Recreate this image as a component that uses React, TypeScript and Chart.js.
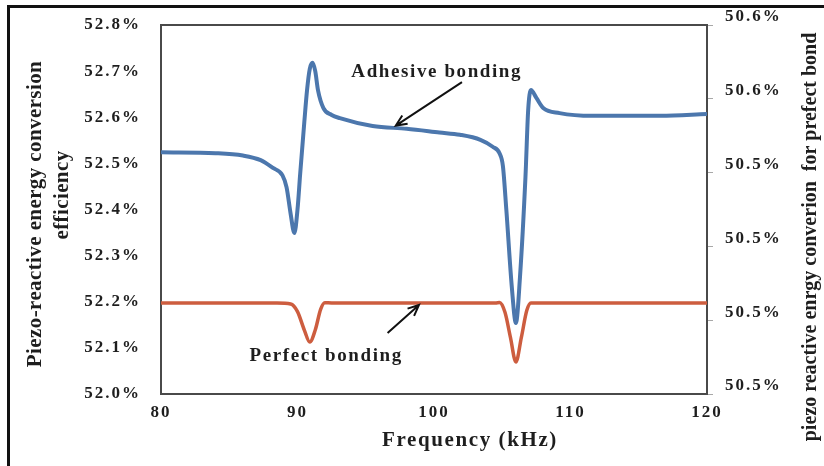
import { useEffect, useRef } from 'react';
import { Chart, registerables } from 'chart.js';

Chart.register(...registerables);

// Adhesive bonding: conversion efficiency (%) against frequency (kHz)
const adhesiveFreq = [
  80, 84, 86, 87.3, 88.2, 88.9, 89.2, 89.5, 89.77, 90.0, 90.2, 90.5, 90.7, 90.9,
  91.1, 91.3, 91.5, 91.9, 92.5, 93.1, 95.5, 98.0, 100.4, 101.9, 103.4, 104.3,
  104.8, 105.05, 105.3, 105.7, 106.0, 106.3, 106.7, 106.9, 107.1, 107.5, 108.0,
  109.2, 111.6, 116.6, 120,
];
const adhesiveEff = [
  52.524, 52.522, 52.517, 52.507, 52.49, 52.474, 52.448, 52.39, 52.349, 52.4,
  52.479, 52.59, 52.659, 52.705, 52.718, 52.7, 52.659, 52.62, 52.605, 52.598,
  52.581, 52.575, 52.567, 52.562, 52.551, 52.536, 52.522, 52.494, 52.399, 52.232,
  52.154, 52.254, 52.47, 52.616, 52.659, 52.642, 52.62, 52.609, 52.603, 52.603,
  52.607,
];

// Perfect bonding: plotted against the right-hand axis
const perfectFreq = [
  80, 88.5, 89.5, 90.0, 90.5, 90.9, 91.3, 91.7, 92.0, 92.5, 104.5, 104.8, 105.2,
  105.6, 106.0, 106.4, 106.8, 107.1, 107.5, 120,
];
const perfectEff = [
  50.487, 50.487, 50.4866, 50.4835, 50.476, 50.4711, 50.476, 50.4845, 50.4871,
  50.487, 50.487, 50.4872, 50.4832, 50.473, 50.463, 50.473, 50.484, 50.487,
  50.487, 50.487,
];

const leftTickLabels = ['52.0%', '52.1%', '52.2%', '52.3%', '52.4%', '52.5%', '52.6%', '52.7%', '52.8%'];
const rightTickLabels = ['50.5%', '50.5%', '50.5%', '50.5%', '50.6%', '50.6%'];

const SERIF = '"Liberation Serif", "Times New Roman", serif';
const INK = '#1e1e1e';

const pointsOf = (xs: number[], ys: number[]) => xs.map((x, i) => ({ x, y: ys[i] }));

function drawArrow(ctx: CanvasRenderingContext2D, x1: number, y1: number, x2: number, y2: number) {
  const ang = Math.atan2(y2 - y1, x2 - x1);
  const len = 12;
  const spread = 0.42;
  ctx.beginPath();
  ctx.moveTo(x1, y1);
  ctx.lineTo(x2, y2);
  ctx.moveTo(x2 - len * Math.cos(ang - spread), y2 - len * Math.sin(ang - spread));
  ctx.lineTo(x2, y2);
  ctx.lineTo(x2 - len * Math.cos(ang + spread), y2 - len * Math.sin(ang + spread));
  ctx.stroke();
}

const decorations = {
  id: 'decorations',
  beforeDraw(chart: any) {
    (chart.ctx as any).letterSpacing = '2px';
  },
  beforeDatasetsDraw(chart: any) {
    const { ctx, chartArea: a } = chart;
    ctx.save();
    ctx.strokeStyle = '#4a4a4a';
    ctx.lineWidth = 2;
    ctx.strokeRect(a.left, a.top, a.right - a.left, a.bottom - a.top);
    ctx.restore();
  },
  afterDraw(chart: any) {
    const { ctx, scales } = chart;
    const xs = scales.x;
    const ys = scales.y;
    ctx.save();
    ctx.fillStyle = INK;
    ctx.strokeStyle = '#111';
    ctx.textAlign = 'center';
    ctx.textBaseline = 'middle';

    // x-axis title
    ctx.letterSpacing = '1.6px';
    ctx.font = `bold 21px ${SERIF}`;
    ctx.fillText('Frequency (kHz)', 470, 441);

    // left axis title (two lines, rotated)
    ctx.letterSpacing = '0.4px';
    ctx.save();
    ctx.translate(36, 214);
    ctx.rotate(-Math.PI / 2);
    ctx.fillText('Piezo-reactive energy conversion', 0, 0);
    ctx.restore();
    ctx.save();
    ctx.translate(63, 195);
    ctx.rotate(-Math.PI / 2);
    ctx.fillText('efficiency', 0, 0);
    ctx.restore();

    // right axis title
    ctx.letterSpacing = '0px';
    ctx.font = `bold 20px ${SERIF}`;
    ctx.save();
    ctx.translate(811, 237);
    ctx.rotate(-Math.PI / 2);
    ctx.fillText('piezo reactive enrgy converion  for prefect bond', 0, 0);
    ctx.restore();

    // curve annotations
    ctx.letterSpacing = '1.6px';
    ctx.font = `bold 19px ${SERIF}`;
    ctx.fillText('Adhesive bonding', xs.getPixelForValue(100.2), ys.getPixelForValue(52.698));
    ctx.fillText('Perfect bonding', xs.getPixelForValue(92.1), ys.getPixelForValue(52.082));

    ctx.lineWidth = 2;
    drawArrow(
      ctx,
      xs.getPixelForValue(102.05), ys.getPixelForValue(52.676),
      xs.getPixelForValue(97.2), ys.getPixelForValue(52.582),
    );
    drawArrow(
      ctx,
      xs.getPixelForValue(96.6), ys.getPixelForValue(52.132),
      xs.getPixelForValue(98.9), ys.getPixelForValue(52.193),
    );
    ctx.restore();
    (ctx as any).letterSpacing = '0px';
  },
};

export default function App() {
  const canvasRef = useRef<HTMLCanvasElement>(null);

  useEffect(() => {
    const tickFont = { family: SERIF, size: 17, weight: 'bold' as const };
    const chart = new Chart(canvasRef.current!, {
      type: 'line',
      data: {
        datasets: [
          {
            label: 'Adhesive bonding',
            data: pointsOf(adhesiveFreq, adhesiveEff),
            yAxisID: 'y',
            borderColor: '#4c77ad',
            borderWidth: 4,
            pointRadius: 0,
            cubicInterpolationMode: 'monotone',
            fill: false,
          },
          {
            label: 'Perfect bonding',
            data: pointsOf(perfectFreq, perfectEff),
            yAxisID: 'y1',
            borderColor: '#cd5d3f',
            borderWidth: 3.5,
            pointRadius: 0,
            cubicInterpolationMode: 'monotone',
            fill: false,
          },
        ],
      },
      options: {
        animation: false,
        responsive: false,
        devicePixelRatio: 1,
        layout: { padding: { top: 25, left: 0, right: 0, bottom: 0 } },
        plugins: { legend: { display: false }, tooltip: { enabled: false } },
        scales: {
          x: {
            type: 'linear',
            min: 80,
            max: 120,
            grid: { display: false },
            border: { display: false },
            ticks: {
              stepSize: 10,
              padding: 0,
              color: INK,
              font: tickFont,
              callback: (v: any) => String(v),
            },
            afterFit: (s: any) => { s.height = 72; },
          },
          y: {
            type: 'linear',
            position: 'left',
            min: 52.0,
            max: 52.8,
            grid: { display: false },
            border: { display: false },
            ticks: {
              stepSize: 0.1,
              padding: 12,
              color: INK,
              font: tickFont,
              callback: (_v: any, i: number) => leftTickLabels[i],
            },
            afterFit: (s: any) => { s.width = 161; },
          },
          y1: {
            type: 'linear',
            position: 'right',
            min: 50.45,
            max: 50.6,
            grid: {
              display: true,
              drawOnChartArea: false,
              drawTicks: true,
              tickLength: 6,
              color: '#a8a8a8',
            },
            border: { display: false },
            ticks: {
              stepSize: 0.03,
              padding: 12,
              labelOffset: -8,
              color: INK,
              font: tickFont,
              callback: (_v: any, i: number) => rightTickLabels[i],
            },
            afterFit: (s: any) => { s.width = 117; },
          },
        },
      },
      plugins: [decorations],
    } as any);
    return () => chart.destroy();
  }, []);

  return (
    <div
      style={{
        position: 'fixed',
        left: 0,
        top: 0,
        width: 824,
        height: 466,
        background: '#fff',
        overflow: 'hidden',
      }}
    >
      <canvas
        ref={canvasRef}
        width={824}
        height={466}
        style={{ position: 'absolute', left: 0, top: 0 }}
      />
      <div
        style={{
          position: 'absolute',
          left: 7,
          top: 5,
          width: 900,
          height: 600,
          border: '3px solid #111',
          boxSizing: 'border-box',
          pointerEvents: 'none',
        }}
      />
    </div>
  );
}
